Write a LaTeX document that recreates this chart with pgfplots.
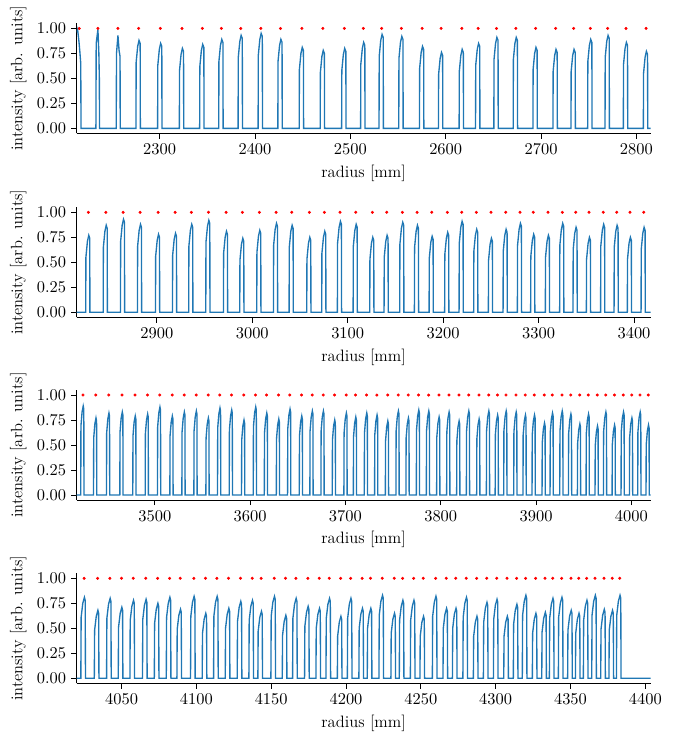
\documentclass[border=0pt]{standalone}
\usepackage{pgfplots}
\pgfplotsset{compat=1.18}
\definecolor{mplblue}{RGB}{31,119,180}
\definecolor{mplred}{RGB}{255,0,0}
\pgfplotsset{panel/.style={
  scale only axis, width=382.7pt, height=73.3pt,
  ymin=-0.05, ymax=1.05,
  ytick={0,0.25,0.5,0.75,1},
  yticklabel style={/pgf/number format/fixed,/pgf/number format/fixed zerofill,/pgf/number format/precision=2},
  xticklabel style={/pgf/number format/1000 sep={}},
  every tick label/.append style={font=\fontsize{11}{13}\selectfont},
  label style={font=\fontsize{11}{13}\selectfont},
  axis x line*=bottom, axis y line*=left,
  tick align=outside, major tick length=3.5pt,
  tick style={black, line width=0.55pt}, axis line style={line width=0.55pt},
  xlabel={radius [mm]}, ylabel={intensity [arb. units]},
  anchor=south west,
}, sig/.style={mplblue, line width=0.9pt, no marks}, dots/.style={only marks, mark=*, mark size=0.8pt, mplred, mark options={draw=mplred, fill=mplred}}}
\begin{document}
\begin{tikzpicture}
\useasboundingbox (0,0) rectangle (456pt,-488pt);
% ---------------- panel 1
\begin{axis}[panel, at={(51.1pt,-88.9pt)}, xmin=2213, xmax=2815, xtick={2300,2400,...,2800}]
\addplot[sig] coordinates {
(2213,0.96)(2214,0.99)(2215.5,0.86)(2216.5,0.75)(2217.3,0.65)(2217.6,0)
(2233.2,0)(2233.5,0.85)(2235.3,0.99)(2236.3,0.75)(2236.8,0.5)(2237,0)
(2254.5,0)(2254.8,0.75)(2256.3,0.93)(2257.5,0.78)(2258.5,0.72)(2258.7,0)
(2275.2,0)(2275.4,.66)(2277.0,.82)(2278.4,.88)(2279.6,.85)(2279.8,0)
(2297.9,0)(2298.1,.63)(2299.7,.79)(2301.1,.85)(2302.3,.82)(2302.5,0)
(2320.7,0)(2320.9,.58)(2322.5,.74)(2323.9,.80)(2325.1,.77)(2325.3,0)
(2342.0,0)(2342.2,.62)(2343.8,.78)(2345.2,.84)(2346.4,.81)(2346.6,0)
(2362.0,0)(2362.2,.67)(2363.8,.83)(2365.2,.89)(2366.4,.86)(2366.6,0)
(2382.3,0)(2382.5,.71)(2384.1,.87)(2385.5,.93)(2386.7,.90)(2386.9,0)
(2403.3,0)(2403.5,.73)(2405.1,.89)(2406.5,.95)(2407.7,.92)(2407.9,0)
(2424.0,0)(2424.2,.67)(2425.8,.83)(2427.2,.89)(2428.4,.86)(2428.6,0)
(2446.4,0)(2446.6,.59)(2448.2,.75)(2449.6,.81)(2450.8,.78)(2451.0,0)
(2468.4,0)(2468.6,.56)(2470.2,.72)(2471.6,.78)(2472.8,.75)(2473.0,0)
(2490.9,0)(2491.1,.58)(2492.7,.74)(2494.1,.80)(2495.3,.77)(2495.5,0)
(2510.8,0)(2511.0,.64)(2512.6,.80)(2514.0,.86)(2515.2,.83)(2515.4,0)
(2530.1,0)(2530.3,.72)(2531.9,.88)(2533.3,.94)(2534.5,.91)(2534.7,0)
(2550.8,0)(2551.0,.70)(2552.6,.86)(2554.0,.92)(2555.2,.89)(2555.4,0)
(2572.5,0)(2572.7,.60)(2574.3,.76)(2575.7,.82)(2576.9,.79)(2577.1,0)
(2592.4,0)(2592.6,.54)(2594.2,.70)(2595.6,.76)(2596.8,.73)(2597.0,0)
(2614.1,0)(2614.3,.57)(2615.9,.73)(2617.3,.79)(2618.5,.76)(2618.7,0)
(2631.3,0)(2631.5,.63)(2633.1,.79)(2634.5,.85)(2635.7,.82)(2635.9,0)
(2650.5,0)(2650.7,.69)(2652.3,.85)(2653.7,.91)(2654.9,.88)(2655.1,0)
(2670.8,0)(2671.0,.69)(2672.6,.85)(2674.0,.91)(2675.2,.88)(2675.4,0)
(2691.5,0)(2691.7,.59)(2693.3,.75)(2694.7,.81)(2695.9,.78)(2696.1,0)
(2712.5,0)(2712.7,.57)(2714.3,.73)(2715.7,.79)(2716.9,.76)(2717.1,0)
(2731.4,0)(2731.6,.57)(2733.2,.73)(2734.6,.79)(2735.8,.76)(2736.0,0)
(2748.9,0)(2749.1,.67)(2750.7,.83)(2752.1,.89)(2753.3,.86)(2753.5,0)
(2767.1,0)(2767.3,.71)(2768.9,.87)(2770.3,.93)(2771.5,.90)(2771.7,0)
(2786.3,0)(2786.5,.64)(2788.1,.80)(2789.5,.86)(2790.7,.83)(2790.9,0)
(2807.3,0)(2807.5,.55)(2809.1,.71)(2810.5,.77)(2811.7,.74)(2811.9,0)
(2815,0)};
\addplot[dots] coordinates {
(2215.7,1)(2235.3,1)(2256.3,1)(2278.0,1)(2300.7,1)(2323.5,1)(2344.8,1)(2364.8,1)(2385.1,1)(2406.1,1)
(2426.8,1)(2449.2,1)(2471.2,1)(2493.7,1)(2513.6,1)(2532.9,1)(2553.6,1)(2575.3,1)(2595.2,1)(2616.9,1)
(2634.1,1)(2653.3,1)(2673.6,1)(2694.3,1)(2715.3,1)(2734.2,1)(2751.7,1)(2769.9,1)(2789.1,1)(2810.1,1)};
\end{axis}
% ---------------- panel 2
\begin{axis}[panel, at={(51.1pt,-211.5pt)}, xmin=2816, xmax=3417.5, xtick={2900,3000,...,3400}]
\addplot[sig] coordinates {
(2816,0)
(2825.5,0)(2825.7,.55)(2827.3,.71)(2828.7,.77)(2829.7,.74)(2829.9,0)
(2843.8,0)(2844.0,.65)(2845.6,.81)(2847.0,.87)(2848.0,.84)(2848.2,0)
(2861.9,0)(2862.1,.71)(2863.7,.87)(2865.1,.93)(2866.1,.90)(2866.3,0)
(2879.7,0)(2879.9,.66)(2881.5,.82)(2882.9,.88)(2883.9,.85)(2884.1,0)
(2898.6,0)(2898.8,.56)(2900.4,.72)(2901.8,.78)(2902.8,.75)(2903.0,0)
(2916.4,0)(2916.6,.57)(2918.2,.73)(2919.6,.79)(2920.6,.76)(2920.8,0)
(2933.4,0)(2933.6,.66)(2935.2,.82)(2936.6,.88)(2937.6,.85)(2937.8,0)
(2951.3,0)(2951.5,.70)(2953.1,.86)(2954.5,.92)(2955.5,.89)(2955.7,0)
(2969.8,0)(2970.0,.59)(2971.6,.75)(2973.0,.81)(2974.0,.78)(2974.2,0)
(2986.9,0)(2987.1,.52)(2988.7,.68)(2990.1,.74)(2991.1,.71)(2991.3,0)
(3004.7,0)(3004.9,.60)(3006.5,.76)(3007.9,.82)(3008.9,.79)(3009.1,0)
(3022.2,0)(3022.4,.67)(3024.0,.83)(3025.4,.89)(3026.4,.86)(3026.6,0)
(3038.6,0)(3038.8,.65)(3040.4,.81)(3041.8,.87)(3042.8,.84)(3043.0,0)
(3057.1,0)(3057.3,.53)(3058.9,.69)(3060.3,.75)(3061.3,.72)(3061.5,0)
(3072.8,0)(3073.0,.59)(3074.6,.75)(3076.0,.81)(3077.0,.78)(3077.2,0)
(3089.2,0)(3089.4,.69)(3091.0,.85)(3092.4,.91)(3093.4,.88)(3093.6,0)
(3105.7,0)(3105.9,.66)(3107.5,.82)(3108.9,.88)(3109.9,.85)(3110.1,0)
(3123.1,0)(3123.3,.53)(3124.9,.69)(3126.3,.75)(3127.3,.72)(3127.5,0)
(3138.1,0)(3138.3,.55)(3139.9,.71)(3141.3,.77)(3142.3,.74)(3142.5,0)
(3154.5,0)(3154.7,.68)(3156.3,.84)(3157.7,.90)(3158.7,.87)(3158.9,0)
(3169.9,0)(3170.1,.65)(3171.7,.81)(3173.1,.87)(3174.1,.84)(3174.3,0)
(3185.3,0)(3185.5,.54)(3187.1,.70)(3188.5,.76)(3189.5,.73)(3189.7,0)
(3201.6,0)(3201.8,.58)(3203.4,.74)(3204.8,.80)(3205.8,.77)(3206.0,0)
(3216.7,0)(3216.9,.69)(3218.5,.85)(3219.9,.91)(3220.9,.88)(3221.1,0)
(3232.0,0)(3232.2,.61)(3233.8,.77)(3235.2,.83)(3236.2,.80)(3236.4,0)
(3247.4,0)(3247.6,.52)(3249.2,.68)(3250.6,.74)(3251.6,.71)(3251.8,0)
(3262.8,0)(3263.0,.61)(3264.6,.77)(3266.0,.83)(3267.0,.80)(3267.2,0)
(3277.8,0)(3278.0,.67)(3279.6,.83)(3281.0,.89)(3282.0,.86)(3282.2,0)
(3291.7,0)(3291.9,.56)(3293.5,.72)(3294.9,.78)(3295.9,.75)(3296.1,0)
(3307.1,0)(3307.3,.55)(3308.9,.71)(3310.3,.77)(3311.3,.74)(3311.5,0)
(3322.1,0)(3322.3,.67)(3323.9,.83)(3325.3,.89)(3326.3,.86)(3326.5,0)
(3336.1,0)(3336.3,.63)(3337.9,.79)(3339.3,.85)(3340.3,.82)(3340.5,0)
(3350.1,0)(3350.3,.53)(3351.9,.69)(3353.3,.75)(3354.3,.72)(3354.5,0)
(3365.0,0)(3365.2,.66)(3366.8,.82)(3368.2,.88)(3369.2,.85)(3369.4,0)
(3379.1,0)(3379.3,.65)(3380.9,.81)(3382.3,.87)(3383.3,.84)(3383.5,0)
(3393.0,0)(3393.2,.53)(3394.8,.69)(3396.2,.75)(3397.2,.72)(3397.4,0)
(3407.4,0)(3407.6,.63)(3409.2,.79)(3410.6,.85)(3411.6,.82)(3411.8,0)
(3417.5,0)};
\addplot[dots] coordinates {
(2828.3,1)(2846.6,1)(2864.7,1)(2882.5,1)(2901.4,1)(2919.2,1)(2936.2,1)(2954.1,1)(2972.6,1)(2989.7,1)
(3007.5,1)(3025.0,1)(3041.4,1)(3059.9,1)(3075.6,1)(3092.0,1)(3108.5,1)(3125.9,1)(3140.9,1)(3157.3,1)
(3172.7,1)(3188.1,1)(3204.4,1)(3219.5,1)(3234.8,1)(3250.2,1)(3265.6,1)(3280.6,1)(3294.5,1)(3309.9,1)
(3324.9,1)(3338.9,1)(3352.9,1)(3367.8,1)(3381.9,1)(3395.8,1)(3410.2,1)};
\end{axis}
% ---------------- panel 3
\begin{axis}[panel, at={(51.1pt,-333.3pt)}, xmin=3418, xmax=4020.3, xtick={3500,3600,...,4000}]
\addplot[sig] coordinates {
(3418,0)
(3422.3,0)(3422.5,.69)(3423.7,.83)(3424.9,.89)(3425.5,.86)(3425.7,0)
(3435.7,0)(3435.9,.57)(3437.1,.71)(3438.3,.77)(3438.9,.74)(3439.1,0)
(3449.3,0)(3449.5,.62)(3450.7,.76)(3451.9,.82)(3452.5,.79)(3452.7,0)
(3463.3,0)(3463.5,.63)(3464.7,.77)(3465.9,.83)(3466.5,.80)(3466.7,0)
(3476.9,0)(3477.1,.59)(3478.3,.73)(3479.5,.79)(3480.1,.76)(3480.3,0)
(3489.9,0)(3490.1,.61)(3491.3,.75)(3492.5,.81)(3493.1,.78)(3493.3,0)
(3502.8,0)(3503.0,.68)(3504.2,.82)(3505.4,.88)(3506.0,.85)(3506.2,0)
(3515.8,0)(3516.0,.59)(3517.2,.73)(3518.4,.79)(3519.0,.76)(3519.2,0)
(3528.4,0)(3528.6,.63)(3529.8,.77)(3531.0,.83)(3531.6,.80)(3531.8,0)
(3541.0,0)(3541.2,.64)(3542.4,.78)(3543.6,.84)(3544.2,.81)(3544.4,0)
(3553.6,0)(3553.8,.57)(3555.0,.71)(3556.2,.77)(3556.8,.74)(3557.0,0)
(3565.8,0)(3566.0,.67)(3567.2,.81)(3568.4,.87)(3569.0,.84)(3569.2,0)
(3578.1,0)(3578.3,.65)(3579.5,.79)(3580.7,.85)(3581.3,.82)(3581.5,0)
(3591.0,0)(3591.2,.55)(3592.4,.69)(3593.6,.75)(3594.2,.72)(3594.4,0)
(3603.3,0)(3603.5,.68)(3604.7,.82)(3605.9,.88)(3606.5,.85)(3606.7,0)
(3614.9,0)(3615.1,.62)(3616.3,.76)(3617.5,.82)(3618.1,.79)(3618.3,0)
(3627.5,0)(3627.7,.56)(3628.9,.70)(3630.1,.76)(3630.7,.73)(3630.9,0)
(3639.3,0)(3639.5,.66)(3640.7,.80)(3641.9,.86)(3642.5,.83)(3642.7,0)
(3651.6,0)(3651.8,.59)(3653.0,.73)(3654.2,.79)(3654.8,.76)(3655.0,0)
(3662.7,0)(3662.9,.64)(3664.1,.78)(3665.3,.84)(3665.9,.81)(3666.1,0)
(3674.3,0)(3674.5,.64)(3675.7,.78)(3676.9,.84)(3677.5,.81)(3677.7,0)
(3686.2,0)(3686.4,.55)(3687.6,.69)(3688.8,.75)(3689.4,.72)(3689.6,0)
(3698.4,0)(3698.6,.62)(3699.8,.76)(3701.0,.82)(3701.6,.79)(3701.8,0)
(3708.3,0)(3708.5,.58)(3709.7,.72)(3710.9,.78)(3711.5,.75)(3711.7,0)
(3719.8,0)(3720.0,.62)(3721.2,.76)(3722.4,.82)(3723.0,.79)(3723.2,0)
(3730.6,0)(3730.8,.60)(3732.0,.74)(3733.2,.80)(3733.8,.77)(3734.0,0)
(3741.9,0)(3742.1,.54)(3743.3,.68)(3744.5,.74)(3745.1,.71)(3745.3,0)
(3753.0,0)(3753.2,.64)(3754.4,.78)(3755.6,.84)(3756.2,.81)(3756.4,0)
(3763.5,0)(3763.7,.57)(3764.9,.71)(3766.1,.77)(3766.7,.74)(3766.9,0)
(3774.4,0)(3774.6,.65)(3775.8,.79)(3777.0,.85)(3777.6,.82)(3777.8,0)
(3784.9,0)(3785.1,.64)(3786.3,.78)(3787.5,.84)(3788.1,.81)(3788.3,0)
(3795.7,0)(3795.9,.58)(3797.1,.72)(3798.3,.78)(3798.9,.75)(3799.1,0)
(3806.2,0)(3806.4,.63)(3807.6,.77)(3808.8,.83)(3809.4,.80)(3809.6,0)
(3816.7,0)(3816.9,.54)(3818.1,.68)(3819.3,.74)(3819.9,.71)(3820.1,0)
(3826.9,0)(3827.1,.64)(3828.3,.78)(3829.5,.84)(3830.1,.81)(3830.3,0)
(3837.7,0)(3837.9,.56)(3839.1,.70)(3840.3,.76)(3840.9,.73)(3841.1,0)
(3847.9,0)(3848.1,.64)(3849.3,.78)(3850.5,.84)(3851.1,.81)(3851.3,0)
(3857.1,0)(3857.3,.60)(3858.5,.74)(3859.7,.80)(3860.3,.77)(3860.5,0)
(3866.1,0)(3866.3,.64)(3867.5,.78)(3868.7,.84)(3869.3,.81)(3869.5,0)
(3876.6,0)(3876.8,.63)(3878.0,.77)(3879.2,.83)(3879.8,.80)(3880.0,0)
(3886.3,0)(3886.5,.60)(3887.7,.74)(3888.9,.80)(3889.5,.77)(3889.7,0)
(3895.8,0)(3896.0,.60)(3897.2,.74)(3898.4,.80)(3899.0,.77)(3899.2,0)
(3906.3,0)(3906.5,.52)(3907.7,.66)(3908.9,.72)(3909.5,.69)(3909.7,0)
(3914.7,0)(3914.9,.62)(3916.1,.76)(3917.3,.82)(3917.9,.79)(3918.1,0)
(3924.9,0)(3925.1,.64)(3926.3,.78)(3927.5,.84)(3928.1,.81)(3928.3,0)
(3934.0,0)(3934.2,.61)(3935.4,.75)(3936.6,.81)(3937.2,.78)(3937.4,0)
(3943.4,0)(3943.6,.51)(3944.8,.65)(3946.0,.71)(3946.6,.68)(3946.8,0)
(3952.5,0)(3952.7,.61)(3953.9,.75)(3955.1,.81)(3955.7,.78)(3955.9,0)
(3961.9,0)(3962.1,.49)(3963.3,.63)(3964.5,.69)(3965.1,.66)(3965.3,0)
(3970.7,0)(3970.9,.63)(3972.1,.77)(3973.3,.83)(3973.9,.80)(3974.1,0)
(3979.8,0)(3980.0,.50)(3981.2,.64)(3982.4,.70)(3983.0,.67)(3983.2,0)
(3989.2,0)(3989.4,.63)(3990.6,.77)(3991.8,.83)(3992.4,.80)(3992.6,0)
(3998.0,0)(3998.2,.57)(3999.4,.71)(4000.6,.77)(4001.2,.74)(4001.4,0)
(4006.7,0)(4006.9,.63)(4008.1,.77)(4009.3,.83)(4009.9,.80)(4010.1,0)
(4015.4,0)(4015.6,.50)(4016.8,.64)(4018.0,.70)(4018.6,.67)(4018.8,0)
(4020.3,0)};
\addplot[dots] coordinates {
(3424.7,1)(3438.1,1)(3451.7,1)(3465.7,1)(3479.3,1)(3492.3,1)(3505.2,1)(3518.2,1)(3530.8,1)(3543.4,1)
(3556.0,1)(3568.2,1)(3580.5,1)(3593.4,1)(3605.7,1)(3617.3,1)(3629.9,1)(3641.7,1)(3654.0,1)(3665.1,1)
(3676.7,1)(3688.6,1)(3700.8,1)(3710.7,1)(3722.2,1)(3733.0,1)(3744.3,1)(3755.4,1)(3765.9,1)(3776.8,1)
(3787.3,1)(3798.1,1)(3808.6,1)(3819.1,1)(3829.3,1)(3840.1,1)(3850.3,1)(3859.5,1)(3868.5,1)(3879.0,1)
(3888.7,1)(3898.2,1)(3908.7,1)(3917.1,1)(3927.3,1)(3936.4,1)(3945.8,1)(3954.9,1)(3964.3,1)(3973.1,1)
(3982.2,1)(3991.6,1)(4000.4,1)(4009.1,1)(4017.8,1)};
\end{axis}
% ---------------- panel 4
\begin{axis}[panel, at={(51.1pt,-455.5pt)}, xmin=4020, xmax=4403.6, xtick={4050,4100,...,4400}]
\addplot[sig] coordinates {
(4020,0)
(4022.8,0)(4023.0,.61)(4024.1,.75)(4025.2,.81)(4025.7,.78)(4025.9,0)
(4031.8,0)(4032.0,.48)(4033.1,.62)(4034.2,.68)(4034.7,.65)(4034.9,0)
(4040.0,0)(4040.2,.60)(4041.3,.74)(4042.4,.80)(4042.9,.77)(4043.1,0)
(4047.8,0)(4048.0,.51)(4049.1,.65)(4050.2,.71)(4050.7,.68)(4050.9,0)
(4055.6,0)(4055.8,.58)(4056.9,.72)(4058.0,.78)(4058.5,.75)(4058.7,0)
(4064.0,0)(4064.2,.59)(4065.3,.73)(4066.4,.79)(4066.9,.76)(4067.1,0)
(4071.9,0)(4072.1,.55)(4073.2,.69)(4074.3,.75)(4074.8,.72)(4075.0,0)
(4079.9,0)(4080.1,.61)(4081.2,.75)(4082.3,.81)(4082.8,.78)(4083.0,0)
(4087.0,0)(4087.2,.49)(4088.3,.63)(4089.4,.69)(4089.9,.66)(4090.1,0)
(4096.1,0)(4096.3,.62)(4097.4,.76)(4098.5,.82)(4099.0,.79)(4099.2,0)
(4103.9,0)(4104.1,.45)(4105.2,.59)(4106.3,.65)(4106.8,.62)(4107.0,0)
(4111.5,0)(4111.7,.62)(4112.8,.76)(4113.9,.82)(4114.4,.79)(4114.6,0)
(4119.3,0)(4119.5,.50)(4120.6,.64)(4121.7,.70)(4122.2,.67)(4122.4,0)
(4127.3,0)(4127.5,.57)(4128.6,.71)(4129.7,.77)(4130.2,.74)(4130.4,0)
(4135.1,0)(4135.3,.58)(4136.4,.72)(4137.5,.78)(4138.0,.75)(4138.2,0)
(4141.1,0)(4141.3,.47)(4142.4,.61)(4143.5,.67)(4144.0,.64)(4144.2,0)
(4149.8,0)(4150.0,.62)(4151.1,.76)(4152.2,.82)(4152.7,.79)(4152.9,0)
(4157.4,0)(4157.6,.43)(4158.7,.57)(4159.8,.63)(4160.3,.60)(4160.5,0)
(4164.3,0)(4164.5,.60)(4165.6,.74)(4166.7,.80)(4167.2,.77)(4167.4,0)
(4172.3,0)(4172.5,.52)(4173.6,.66)(4174.7,.72)(4175.2,.69)(4175.4,0)
(4179.9,0)(4180.1,.50)(4181.2,.64)(4182.3,.70)(4182.8,.67)(4183.0,0)
(4186.6,0)(4186.8,.60)(4187.9,.74)(4189.0,.80)(4189.5,.77)(4189.7,0)
(4194.2,0)(4194.4,.42)(4195.5,.56)(4196.6,.62)(4197.1,.59)(4197.3,0)
(4200.9,0)(4201.1,.60)(4202.2,.74)(4203.3,.80)(4203.8,.77)(4204.0,0)
(4208.6,0)(4208.8,.50)(4209.9,.64)(4211.0,.70)(4211.5,.67)(4211.7,0)
(4214.2,0)(4214.4,.50)(4215.5,.64)(4216.6,.70)(4217.1,.67)(4217.3,0)
(4222.0,0)(4222.2,.63)(4223.3,.77)(4224.4,.83)(4224.9,.80)(4225.1,0)
(4230.0,0)(4230.2,.45)(4231.3,.59)(4232.4,.65)(4232.9,.62)(4233.1,0)
(4235.6,0)(4235.8,.58)(4236.9,.72)(4238.0,.78)(4238.5,.75)(4238.7,0)
(4243.0,0)(4243.2,.58)(4244.3,.72)(4245.4,.78)(4245.9,.75)(4246.1,0)
(4249.4,0)(4249.6,.42)(4250.7,.56)(4251.8,.62)(4252.3,.59)(4252.5,0)
(4257.7,0)(4257.9,.62)(4259.0,.76)(4260.1,.82)(4260.6,.79)(4260.8,0)
(4264.8,0)(4265.0,.50)(4266.1,.64)(4267.2,.70)(4267.7,.67)(4267.9,0)
(4271.1,0)(4271.3,.50)(4272.4,.64)(4273.5,.70)(4274.0,.67)(4274.2,0)
(4278.1,0)(4278.3,.61)(4279.4,.75)(4280.5,.81)(4281.0,.78)(4281.2,0)
(4285.1,0)(4285.3,.42)(4286.4,.56)(4287.5,.62)(4288.0,.59)(4288.2,0)
(4291.8,0)(4292.0,.56)(4293.1,.70)(4294.2,.76)(4294.7,.73)(4294.9,0)
(4298.5,0)(4298.7,.59)(4299.8,.73)(4300.9,.79)(4301.4,.76)(4301.6,0)
(4305.4,0)(4305.6,.42)(4306.7,.56)(4307.8,.62)(4308.3,.59)(4308.5,0)
(4311.8,0)(4312.0,.54)(4313.1,.68)(4314.2,.74)(4314.7,.71)(4314.9,0)
(4317.8,0)(4318.0,.63)(4319.1,.77)(4320.2,.83)(4320.7,.80)(4320.9,0)
(4324.5,0)(4324.7,.45)(4325.8,.59)(4326.9,.65)(4327.4,.62)(4327.6,0)
(4330.8,0)(4331.0,.46)(4332.1,.60)(4333.2,.66)(4333.7,.63)(4333.9,0)
(4335.9,0)(4336.1,.60)(4337.2,.74)(4338.3,.80)(4338.8,.77)(4339.0,0)
(4341.9,0)(4342.1,.61)(4343.2,.75)(4344.3,.81)(4344.8,.78)(4345.0,0)
(4348.1,0)(4348.3,.48)(4349.4,.62)(4350.5,.68)(4351.0,.65)(4351.2,0)
(4353.3,0)(4353.5,.45)(4354.6,.59)(4355.7,.65)(4356.2,.62)(4356.4,0)
(4358.6,0)(4358.8,.58)(4359.9,.72)(4361.0,.78)(4361.5,.75)(4361.7,0)
(4364.2,0)(4364.4,.63)(4365.5,.77)(4366.6,.83)(4367.1,.80)(4367.3,0)
(4370.2,0)(4370.4,.49)(4371.5,.63)(4372.6,.69)(4373.1,.66)(4373.3,0)
(4375.7,0)(4375.9,.48)(4377.0,.62)(4378.1,.68)(4378.6,.65)(4378.8,0)
(4380.7,0)(4380.9,.63)(4382.0,.77)(4383.1,.83)(4383.6,.80)(4383.8,0)
(4403.6,0)};
\addplot[dots] coordinates {
(4025.0,1)(4034.0,1)(4042.2,1)(4050.0,1)(4057.8,1)(4066.2,1)(4074.1,1)(4082.1,1)(4089.2,1)(4098.3,1)
(4106.1,1)(4113.7,1)(4121.5,1)(4129.5,1)(4137.3,1)(4143.3,1)(4152.0,1)(4159.6,1)(4166.5,1)(4174.5,1)
(4182.1,1)(4188.8,1)(4196.4,1)(4203.1,1)(4210.8,1)(4216.4,1)(4224.2,1)(4232.2,1)(4237.8,1)(4245.2,1)
(4251.6,1)(4259.9,1)(4267.0,1)(4273.3,1)(4280.3,1)(4287.3,1)(4294.0,1)(4300.7,1)(4307.6,1)(4314.0,1)
(4320.0,1)(4326.7,1)(4333.0,1)(4338.1,1)(4344.1,1)(4350.3,1)(4355.5,1)(4360.8,1)(4366.4,1)(4372.4,1)
(4377.9,1)(4382.9,1)};
\end{axis}
\end{tikzpicture}
\end{document}
